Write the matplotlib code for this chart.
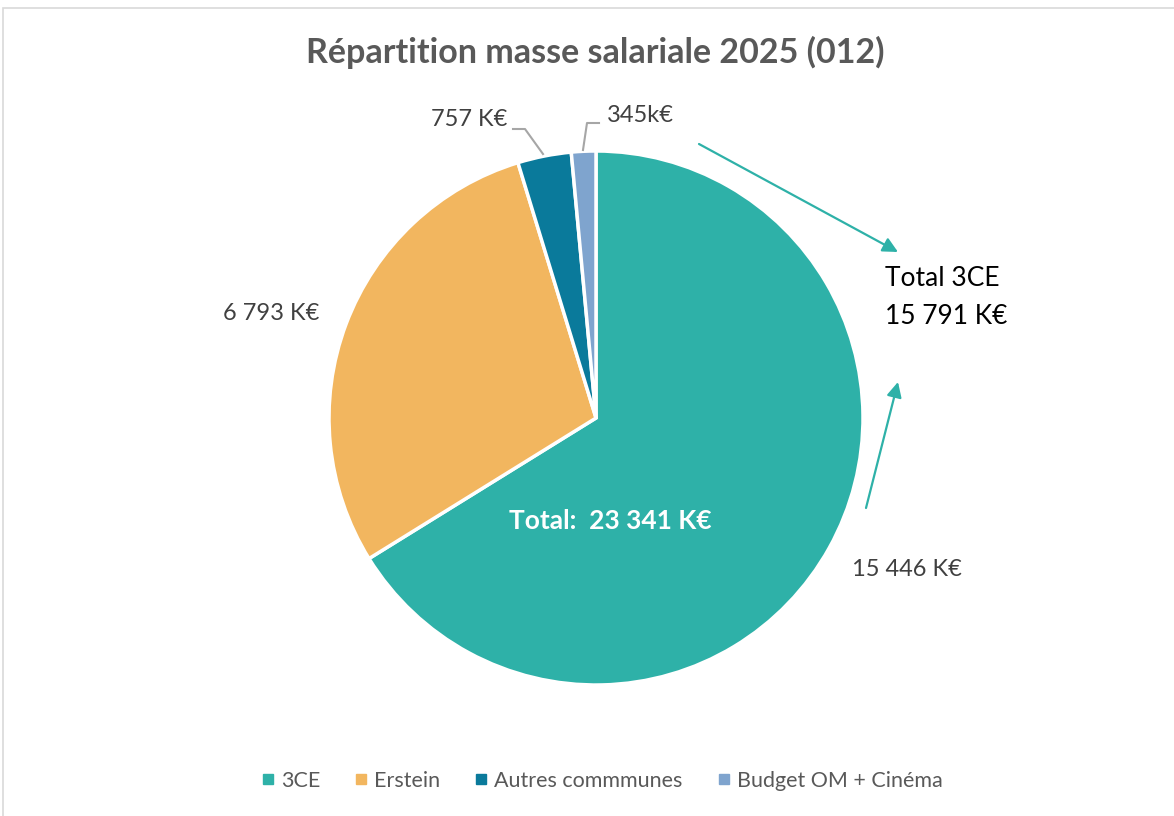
import matplotlib.pyplot as plt
from matplotlib.patches import Rectangle
from matplotlib.lines import Line2D

plt.rcParams['font.family'] = ['Lato', 'DejaVu Sans']

categories = ['3CE', 'Erstein', 'Autres commmunes', 'Budget OM + Cinéma']
values = [15446, 6793, 757, 345]
value_labels = ['15 446 K€', '6 793 K€', '757 K€', '345k€']
colors = ['#2EB1A8', '#F2B65F', '#0A7A9B', '#7FA4CE']

W, H = 1174, 816


def P(x, y):
    # pixel coords (top-left origin) -> axes data coords
    return (x, H - y)


fig = plt.figure(figsize=(W / 100, H / 100), dpi=100)
ax = fig.add_axes([0, 0, 1, 1])

ax.pie(values, colors=colors, startangle=90, counterclock=False,
       center=P(596, 418), radius=267,
       wedgeprops=dict(edgecolor='white', linewidth=2.5))
ax.set_xlim(0, W)
ax.set_ylim(0, H)
ax.set_aspect('equal')
ax.axis('off')

# chart border
ax.add_patch(Rectangle(P(3, 830), 1200, 822, fill=False, edgecolor='#D9D9D9', linewidth=1.2))

ax.text(*P(595, 52), 'Répartition masse salariale 2025 (012)', ha='center', va='center',
        fontsize=24.5, fontweight='bold', color='#595959')

lab_col = '#404040'
ax.text(*P(271, 313), value_labels[1], ha='center', va='center', fontsize=17, color=lab_col)
ax.text(*P(907, 569), value_labels[0], ha='center', va='center', fontsize=17, color=lab_col)
ax.text(*P(469, 120), value_labels[2], ha='center', va='center', fontsize=17, color=lab_col)
ax.text(*P(640, 116), value_labels[3], ha='center', va='center', fontsize=17, color=lab_col)

# leader lines
xs, ys = zip(P(513, 129), P(525, 129), P(543, 154))
ax.plot(xs, ys, color='#A6A6A6', lw=1.5)
xs, ys = zip(P(599, 123), P(587, 123), P(583, 150))
ax.plot(xs, ys, color='#A6A6A6', lw=1.5)

ax.text(*P(610, 521), 'Total:  23 341 K€', ha='center', va='center',
        fontsize=19, fontweight='bold', color='white')

# arrows towards the 3CE total
arr = dict(arrowstyle='-|>,head_length=0.9,head_width=0.45', color='#2EB1A8', lw=1.6,
           shrinkA=0, shrinkB=0)
ax.annotate('', xy=P(898, 252), xytext=P(699, 144), arrowprops=arr)
ax.annotate('', xy=P(898, 382), xytext=P(866, 508), arrowprops=arr)

ax.text(*P(885, 278), 'Total 3CE', ha='left', va='center', fontsize=19, color='black')
ax.text(*P(885, 316), '15 791 K€', ha='left', va='center', fontsize=19, color='black')

handles = [Line2D([], [], marker='s', linestyle='', markersize=7, color=c) for c in colors]
fig.legend(handles, categories, loc='center', bbox_to_anchor=(601 / W, 1 - 781 / H), ncol=4,
           frameon=False, fontsize=15.5, labelcolor='#595959', handletextpad=0.2,
           columnspacing=1.5, handlelength=0.8)

fig.savefig('out.png', dpi=100)
